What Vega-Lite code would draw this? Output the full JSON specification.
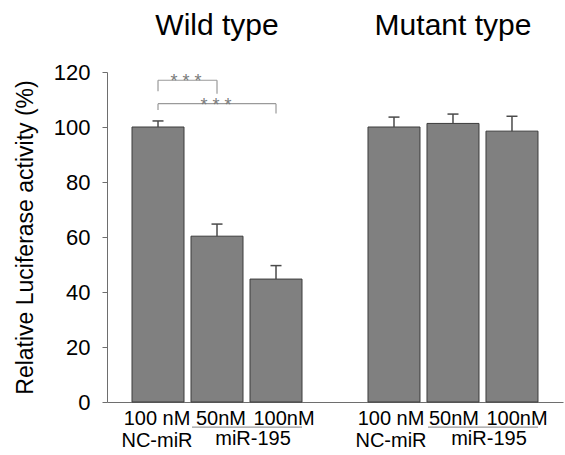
{
  "$schema": "https://vega.github.io/schema/vega-lite/v6.json",
  "autosize": {"type": "none"},
  "padding": {"left": 107, "top": 72, "right": 2, "bottom": 53},
  "width": 456,
  "height": 330,
  "config": {
    "view": {"stroke": null},
    "font": "Liberation Sans",
    "text": {"font": "Liberation Sans"}
  },
  "datasets": {
    "bars": [
      {"cat": "W1", "value": 100, "upper": 102.2},
      {"cat": "W2", "value": 60.3, "upper": 64.7},
      {"cat": "W3", "value": 44.7, "upper": 49.6},
      {"cat": "M1", "value": 100, "upper": 103.6},
      {"cat": "M2", "value": 101.3, "upper": 104.7},
      {"cat": "M3", "value": 98.5, "upper": 103.9}
    ],
    "hlines": [
      {"from": "W1", "to": "W2", "y": 117.0, "label": "* * *"},
      {"from": "W1", "to": "W3", "y": 108.5, "label": "* * *"}
    ],
    "vlines": [
      {"cat": "W1", "lo": 113.0, "hi": 117.0},
      {"cat": "W2", "lo": 112.1, "hi": 117.0},
      {"cat": "W1", "lo": 106.2, "hi": 108.5},
      {"cat": "W3", "lo": 104.9, "hi": 108.5}
    ],
    "groups": [
      {"cat": "W2", "title": "Wild type", "from": "W2", "to": "W3"},
      {"cat": "M2", "title": "Mutant type", "from": "M2", "to": "M3"}
    ]
  },
  "layer": [
    {
      "data": {"name": "bars"},
      "mark": {"type": "bar", "fill": "#808080", "stroke": "#3c3c3c", "strokeWidth": 1},
      "encoding": {
        "x": {
          "field": "cat",
          "type": "nominal",
          "sort": null,
          "scale": {
            "domain": ["W1", "W2", "W3", "gap", "M1", "M2", "M3"],
            "paddingInner": 0.1186,
            "paddingOuter": 0.424
          },
          "axis": {
            "title": null,
            "ticks": false,
            "labelAngle": 0,
            "labelPadding": 6,
            "labelFontSize": 20,
            "labelColor": "#000000",
            "labelBaseline": "top",
            "labelLineHeight": 22,
            "labelOverlap": false,
            "labelBound": false,
            "labelOffset": {
              "condition": [
                {"test": "datum.value == 'W2'", "value": 4},
                {"test": "datum.value == 'W3'", "value": 8},
                {"test": "datum.value == 'M1'", "value": -3},
                {"test": "datum.value == 'M2'", "value": 1},
                {"test": "datum.value == 'M3'", "value": 5}
              ],
              "value": -1
            },
            "domainColor": "#6e6e6e",
            "domainWidth": 1,
            "labelExpr": "datum.value == 'W1' || datum.value == 'M1' ? ['100 nM', 'NC-miR'] : (datum.value == 'W2' || datum.value == 'M2' ? '50nM' : (datum.value == 'W3' || datum.value == 'M3' ? '100nM' : ''))"
          }
        },
        "y": {
          "field": "value",
          "type": "quantitative",
          "scale": {"domain": [0, 120], "nice": false},
          "axis": {
            "title": "Relative Luciferase activity (%)",
            "titleFontSize": 23,
            "titleFontWeight": "normal",
            "titleColor": "#000000",
            "titlePadding": 16,
            "values": [0, 20, 40, 60, 80, 100, 120],
            "labelFontSize": 22,
            "labelColor": "#000000",
            "labelPadding": 12,
            "tickSize": 5,
            "tickColor": "#6e6e6e",
            "domainColor": "#6e6e6e",
            "grid": false
          }
        }
      }
    },
    {
      "data": {"name": "bars"},
      "mark": {"type": "rule", "stroke": "#4a4a4a", "strokeWidth": 1.5},
      "encoding": {
        "x": {"field": "cat", "type": "nominal"},
        "y": {"field": "value", "type": "quantitative"},
        "y2": {"field": "upper"}
      }
    },
    {
      "data": {"name": "bars"},
      "mark": {"type": "tick", "color": "#4a4a4a", "size": 11, "thickness": 1.5, "opacity": 1},
      "encoding": {
        "x": {"field": "cat", "type": "nominal"},
        "y": {"field": "upper", "type": "quantitative"}
      }
    },
    {
      "data": {"name": "hlines"},
      "mark": {"type": "rule", "stroke": "#9a9a9a", "strokeWidth": 1.2},
      "encoding": {
        "x": {"field": "from", "type": "nominal"},
        "x2": {"field": "to"},
        "y": {"field": "y", "type": "quantitative"}
      }
    },
    {
      "data": {"name": "vlines"},
      "mark": {"type": "rule", "stroke": "#9a9a9a", "strokeWidth": 1.2},
      "encoding": {
        "x": {"field": "cat", "type": "nominal"},
        "y": {"field": "lo", "type": "quantitative"},
        "y2": {"field": "hi"}
      }
    },
    {
      "data": {"name": "hlines"},
      "transform": [{"filter": "datum.to == 'W2'"}],
      "mark": {"type": "text", "fontSize": 18, "color": "#7a7a7a", "align": "center", "baseline": "alphabetic", "dy": 7, "xOffset": 28},
      "encoding": {
        "x": {"field": "from", "type": "nominal"},
        "y": {"field": "y", "type": "quantitative"},
        "text": {"field": "label"}
      }
    },
    {
      "data": {"name": "hlines"},
      "transform": [{"filter": "datum.to == 'W3'"}],
      "mark": {"type": "text", "fontSize": 18, "color": "#7a7a7a", "align": "center", "baseline": "alphabetic", "dy": 7, "xOffset": -1},
      "encoding": {
        "x": {"datum": "W2", "type": "nominal"},
        "y": {"field": "y", "type": "quantitative"},
        "text": {"field": "label"}
      }
    },
    {
      "data": {"name": "groups"},
      "mark": {"type": "text", "fontSize": 30, "color": "#000000", "align": "center", "baseline": "alphabetic", "dx": 0},
      "encoding": {
        "x": {"field": "cat", "type": "nominal"},
        "y": {"datum": 133.4, "type": "quantitative"},
        "text": {"field": "title"}
      }
    },
    {
      "data": {"name": "groups"},
      "mark": {"type": "text", "text": "miR-195", "fontSize": 20, "color": "#000000", "align": "center", "baseline": "alphabetic", "dx": 36},
      "encoding": {
        "x": {"field": "cat", "type": "nominal"},
        "y": {"datum": -15.6, "type": "quantitative"}
      }
    },
    {
      "data": {"name": "groups"},
      "mark": {"type": "rule", "stroke": "#9a9a9a", "strokeWidth": 1.2, "xOffset": -25, "x2Offset": 26},
      "encoding": {
        "x": {"field": "from", "type": "nominal"},
        "x2": {"field": "to"},
        "y": {"datum": -9.1, "type": "quantitative"}
      }
    }
  ]
}
